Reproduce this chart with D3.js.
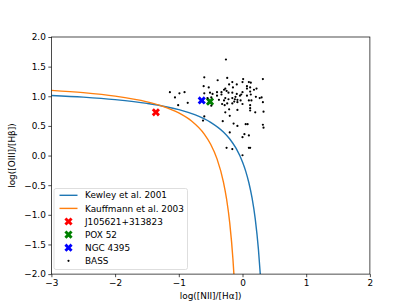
<!DOCTYPE html>
<html>
<head>
<meta charset="utf-8">
<script src="https://cdn.jsdelivr.net/npm/d3@7"></script>
<style>
  body { margin: 0; background: #fff; }
  svg text { font-family: "DejaVu Sans", sans-serif; }
</style>
</head>
<body>
<div id="chart"></div>
<script>
// demarcation curves
const kewleyX = [-3, -2.5, -2, -1.5, -1, -0.75, -0.5, -0.3, -0.2, -0.1, 0, 0.05, 0.1, 0.15, 0.2, 0.25, 0.279];
const kewleyY = [1.014, 0.985, 0.943, 0.880, 0.775, 0.690, 0.561, 0.398, 0.280, 0.120, -0.108, -0.262, -0.459, -0.716, -1.069, -1.583, -2.0];
const kauffX = [-3, -2.5, -2, -1.5, -1.25, -1, -0.8, -0.6, -0.5, -0.4, -0.3, -0.25, -0.2, -0.15, -0.135];
const kauffY = [1.100, 1.061, 1.002, 0.906, 0.831, 0.719, 0.582, 0.362, 0.191, -0.056, -0.443, -0.733, -1.140, -1.750, -2.0];

// single objects
const objNames = ["J105621+313823", "POX 52", "NGC 4395"];
const objX = [-1.36, -0.51, -0.64];
const objY = [0.73, 0.91, 0.93];
const objColors = ["red", "green", "blue"];

// BASS sample
const bassX = [-0.26, -0.60, -0.24, -0.39, 0.01, 0.00, 0.32, 0.10, 0.13, -0.16, -0.21, -0.09, -0.15, -0.27, -0.61, -0.53,
  0.07, 0.07, 0.12, 0.18, 0.22, 0.12, -1.14, -0.99, -0.91, -1.06, -0.86, -1.01, -0.60, -0.51, -0.47, -0.55, -0.49,
  -0.40, -0.33, -0.29, -0.25, -0.22, -0.33, -0.40, -0.16, -0.09, -0.02, -0.04, -0.11, 0.00, 0.07, 0.13, 0.21, 0.27,
  -0.27, -0.22, -0.16, -0.12, -0.08, -0.13, -0.37, -0.29, -0.24, -0.16, -0.03, 0.10, 0.14, 0.30, 0.32, -0.32, -0.28,
  -0.08, 0.00, 0.12, 0.12, 0.12, 0.20, 0.33, -0.21, -0.08, -0.27, -0.20, -0.60, -0.62, -0.31, 0.05, 0.08, -0.14,
  0.32, 0.33, -0.08, 0.03, 0.00, -0.20, 0.10, -0.25, -0.16, 0.10, 0.12, 0.00, -0.49];
const bassY = [1.62, 1.32, 1.31, 1.27, 1.29, 1.24, 1.29, 1.24, 1.23, 1.24, 1.20, 1.20, 1.15, 1.13, 1.17, 1.15,
  1.17, 1.13, 1.15, 1.11, 1.13, 1.08, 1.07, 1.05, 1.07, 0.98, 0.89, 0.85, 1.05, 1.06, 1.04, 0.97, 0.98,
  1.07, 1.07, 1.11, 1.09, 1.06, 1.03, 1.01, 1.06, 1.04, 1.03, 1.01, 0.99, 1.07, 1.01, 1.03, 0.99, 0.97,
  0.97, 0.95, 0.97, 0.95, 0.94, 0.91, 0.94, 0.93, 0.88, 0.88, 0.93, 0.93, 0.93, 0.98, 0.90, 0.87, 0.85,
  0.90, 0.87, 0.85, 0.80, 0.76, 0.73, 0.74, 0.78, 0.77, 0.73, 0.67, 0.66, 0.59, 0.58, 0.53, 0.53, 0.54,
  0.52, 0.47, 0.50, 0.36, 0.31, 0.39, 0.34, 0.13, 0.11, 0.13, 0.13, 0.005, 0.84];

const xTicks = [-3, -2, -1, 0, 1, 2];
const yTicks = [-2, -1.5, -1, -0.5, 0, 0.5, 1, 1.5, 2];

const W = 411, H = 308;
const margin = { top: 37, right: 41.1, bottom: 33.9, left: 51.4 };
const width = W - margin.left - margin.right;
const height = H - margin.top - margin.bottom;

const svg = d3.select("#chart").append("svg")
  .attr("width", W)
  .attr("height", H);

const g = svg.append("g")
  .attr("transform", "translate(" + margin.left + "," + margin.top + ")");

const x = d3.scaleLinear().domain([-3, 2]).range([0, width]);
const y = d3.scaleLinear().domain([-2, 2]).range([height, 0]);

const minus = s => s.replace("-", "\u2212");

g.append("clipPath").attr("id", "clip")
  .append("rect").attr("width", width).attr("height", height);

const plot = g.append("g").attr("clip-path", "url(#clip)");

const line = d3.line()
  .x(d => x(d[0]))
  .y(d => y(d[1]))
  .curve(d3.curveMonotoneX);

plot.append("path")
  .datum(d3.zip(kewleyX, kewleyY))
  .attr("d", line)
  .attr("fill", "none")
  .attr("stroke", "#1f77b4")
  .attr("stroke-width", 1.4);

plot.append("path")
  .datum(d3.zip(kauffX, kauffY))
  .attr("d", line)
  .attr("fill", "none")
  .attr("stroke", "#ff7f0e")
  .attr("stroke-width", 1.4);

// X shaped markers
const xMark = d3.symbol().type(d3.symbolCross).size(42);

objNames.forEach((n, i) => {
  plot.append("path")
    .attr("d", xMark)
    .attr("transform", "translate(" + x(objX[i]) + "," + y(objY[i]) + ") rotate(45)")
    .attr("fill", objColors[i]);
});

plot.selectAll("circle.bass")
  .data(d3.zip(bassX, bassY))
  .enter()
  .append("circle")
  .attr("class", "bass")
  .attr("cx", d => x(d[0]))
  .attr("cy", d => y(d[1]))
  .attr("r", 1.1)
  .attr("fill", "black");

// axes
const xAxis = g.append("g")
  .attr("transform", "translate(0," + height + ")")
  .call(d3.axisBottom(x).tickValues(xTicks).tickSize(3.1).tickPadding(2.5).tickFormat(d => minus(d3.format("d")(d))));

const yAxis = g.append("g")
  .call(d3.axisLeft(y).tickValues(yTicks).tickSize(3.1).tickPadding(2.5).tickFormat(d => minus(d3.format(".1f")(d))));

[xAxis, yAxis].forEach(a => {
  a.select(".domain").remove();
  a.selectAll("line").attr("stroke", "#000").attr("stroke-width", 0.7);
  a.selectAll("text").attr("font-size", "8.9px").attr("fill", "#000");
});

g.append("rect")
  .attr("width", width)
  .attr("height", height)
  .attr("fill", "none")
  .attr("stroke", "#000")
  .attr("stroke-width", 0.7);

svg.append("text")
  .attr("x", margin.left + width / 2)
  .attr("y", 299)
  .attr("text-anchor", "middle")
  .attr("font-size", "8.9px")
  .text("log([NII]/[H\u03b1])");

svg.append("text")
  .attr("transform", "translate(15," + (margin.top + height / 2) + ") rotate(-90)")
  .attr("text-anchor", "middle")
  .attr("font-size", "8.9px")
  .text("log([OIII]/[H\u03b2])");

// legend
const leg = svg.append("g").attr("transform", "translate(54,188.5)");
leg.append("rect")
  .attr("width", 133.5)
  .attr("height", 81)
  .attr("rx", 2)
  .attr("fill", "white")
  .attr("fill-opacity", 0.8)
  .attr("stroke", "#d6d6d6")
  .attr("stroke-width", 0.8);

const legItems = [
  { label: "Kewley et al. 2001", kind: "line", color: "#1f77b4" },
  { label: "Kauffmann et al. 2003", kind: "line", color: "#ff7f0e" },
  { label: objNames[0], kind: "x", color: objColors[0] },
  { label: objNames[1], kind: "x", color: objColors[1] },
  { label: objNames[2], kind: "x", color: objColors[2] },
  { label: "BASS", kind: "dot", color: "black" }
];

legItems.forEach((d, i) => {
  const row = leg.append("g").attr("transform", "translate(0," + (6.8 + i * 13.1) + ")");
  if (d.kind === "line") {
    row.append("line")
      .attr("x1", 5.5).attr("x2", 23.5)
      .attr("stroke", d.color).attr("stroke-width", 1.4);
  } else if (d.kind === "x") {
    row.append("path")
      .attr("d", xMark)
      .attr("transform", "translate(14.5,0) rotate(45)")
      .attr("fill", d.color);
  } else {
    row.append("circle").attr("cx", 14.5).attr("r", 1.1).attr("fill", d.color);
  }
  row.append("text")
    .attr("x", 31)
    .attr("dy", "0.35em")
    .attr("font-size", "8.9px")
    .text(d.label);
});
</script>
</body>
</html>
